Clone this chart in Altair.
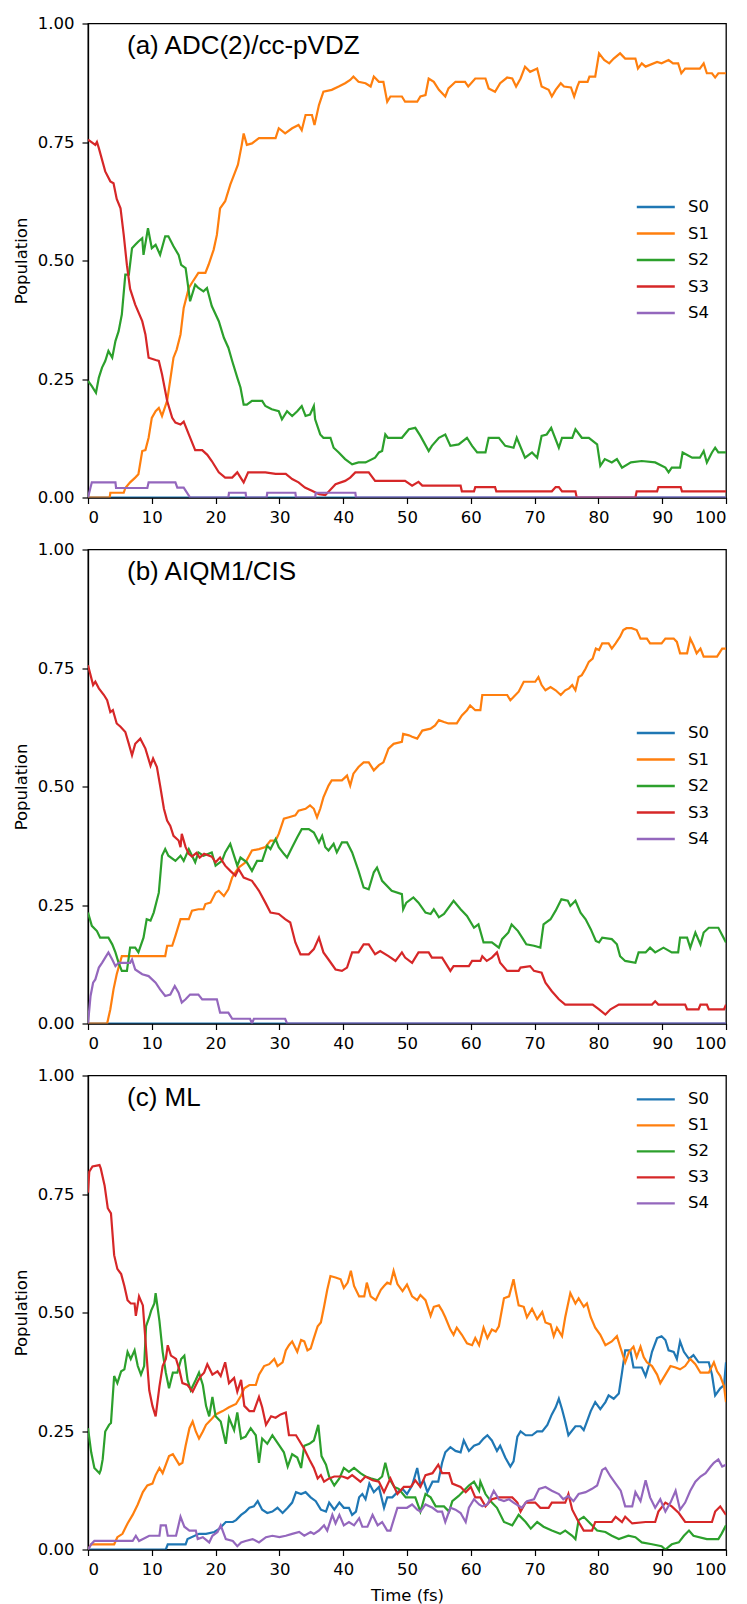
import altair as alt
import pandas as pd

STATES = ["S0", "S1", "S2", "S3", "S4"]
COLORS = ["#1f77b4", "#ff7f0e", "#2ca02c", "#d62728", "#9467bd"]
X_TICKS = [0, 10, 20, 30, 40, 50, 60, 70, 80, 90, 100]
Y_TICKS = [0, 0.25, 0.5, 0.75, 1.0]
PANEL_LABELS = ["(a) ADC(2)/cc-pVDZ", "(b) AIQM1/CIS", "(c) ML"]

# ---------------- panel (a) ADC(2)/cc-pVDZ ----------------
A_S0 = [(0, 0), (100, 0)]
A_S1 = [(0,0),(3.4,0),(3.5,0.01),(5.6,0.01),(5.85,0.02),(6.6,0.032),(7.4,0.042),(7.9,0.049),(8.5,0.098),(9,0.10),(9.5,0.126),(10,0.168),(10.6,0.182),(11.1,0.189),(11.6,0.172),(12.4,0.204),(12.9,0.249),(13.4,0.295),(13.9,0.312),(14.5,0.344),(15,0.40),(15.8,0.442),(16.3,0.453),(17.3,0.474),(18.4,0.474),(18.9,0.491),(19.7,0.523),(20.2,0.554),(20.7,0.61),(21.5,0.625),(22.3,0.66),(23.1,0.688),(23.5,0.702),(24.1,0.744),(24.4,0.768),(24.9,0.744),(25.7,0.747),(26.8,0.758),(29.4,0.758),(29.9,0.779),(30.9,0.768),(32,0.779),(33,0.786),(33.5,0.775),(34.1,0.807),(35.1,0.807),(35.5,0.786),(36.2,0.828),(36.9,0.856),(38.2,0.86),(39.3,0.867),(40.3,0.874),(41.1,0.881),(41.6,0.888),(42.4,0.877),(43.5,0.874),(44.3,0.867),(44.8,0.888),(45.6,0.877),(46.3,0.877),(46.9,0.835),(47.4,0.846),(49.2,0.846),(49.7,0.835),(51.6,0.835),(52.1,0.846),(52.9,0.849),(53.4,0.884),(54.2,0.877),(55,0.86),(56,0.846),(56.5,0.863),(57.6,0.877),(59.1,0.877),(59.6,0.867),(60.7,0.884),(62.3,0.884),(62.8,0.863),(63.8,0.856),(64.6,0.874),(65.7,0.886),(66.5,0.884),(67.1,0.867),(67.8,0.884),(68.5,0.909),(69.3,0.898),(70.4,0.905),(71.1,0.867),(72.2,0.86),(72.7,0.846),(73.3,0.86),(74.1,0.874),(74.6,0.867),(75.7,0.865),(76.2,0.846),(76.7,0.867),(77,0.877),(78.3,0.877),(78.6,0.888),(79.5,0.888),(80.1,0.937),(80.9,0.923),(81.7,0.916),(82.4,0.926),(83.4,0.937),(84.2,0.926),(85.8,0.926),(86.2,0.905),(86.8,0.916),(87.4,0.909),(89.2,0.919),(89.9,0.916),(91,0.923),(91.7,0.916),(92.5,0.916),(93,0.895),(93.6,0.905),(95.9,0.905),(96.5,0.916),(97,0.895),(97.8,0.895),(98.3,0.886),(98.8,0.895),(100,0.895)]
A_S2 = [(0,0.246),(0.6,0.235),(1.25,0.221),(1.7,0.253),(2.2,0.274),(2.7,0.288),(3.2,0.309),(3.8,0.295),(4.3,0.33),(4.8,0.351),(5.3,0.386),(5.85,0.47),(6.4,0.47),(6.9,0.526),(7.4,0.533),(7.9,0.54),(8.5,0.547),(8.7,0.512),(9.4,0.568),(10,0.526),(10.6,0.533),(11.3,0.512),(12.1,0.551),(12.6,0.551),(13.4,0.53),(14.2,0.512),(14.6,0.491),(15.3,0.484),(15.8,0.435),(16,0.414),(16.8,0.449),(17.3,0.442),(18.1,0.435),(18.65,0.442),(19.4,0.404),(20.5,0.372),(21.3,0.337),(22,0.316),(22.6,0.288),(23.4,0.253),(23.9,0.232),(24.4,0.196),(24.9,0.196),(25.7,0.204),(27.3,0.204),(27.8,0.193),(28.8,0.186),(29.9,0.182),(30.4,0.165),(31.2,0.182),(32,0.172),(32.8,0.182),(33.5,0.193),(34.1,0.172),(34.8,0.175),(35.4,0.193),(35.6,0.165),(36.4,0.133),(36.9,0.126),(38,0.126),(38.5,0.105),(39.3,0.095),(40.3,0.081),(41.4,0.07),(42.4,0.074),(43.5,0.074),(45,0.084),(45.6,0.095),(46.1,0.098),(46.6,0.133),(47,0.126),(49.2,0.126),(50.3,0.144),(51.3,0.147),(52.1,0.13),(53.4,0.098),(53.9,0.109),(55,0.126),(56,0.133),(56.8,0.109),(58.1,0.112),(59.4,0.126),(60.2,0.109),(61,0.095),(62.3,0.095),(62.8,0.126),(64.4,0.126),(65.4,0.109),(66.7,0.105),(67.2,0.126),(68.5,0.084),(69.6,0.095),(70.4,0.084),(71.1,0.13),(71.9,0.133),(72.6,0.147),(73.8,0.105),(74.3,0.126),(75.9,0.126),(76.4,0.144),(77.4,0.126),(78.5,0.126),(79.8,0.112),(80.3,0.067),(81,0.081),(82.1,0.074),(82.9,0.081),(83.7,0.063),(85.1,0.074),(86.8,0.077),(88.9,0.074),(90.5,0.063),(91,0.053),(91.5,0.063),(92.8,0.063),(93.2,0.095),(94.7,0.084),(95.9,0.084),(96.5,0.098),(97,0.074),(97.8,0.095),(98.3,0.105),(98.8,0.095),(100,0.095)]
A_S3 = [(0,0.755),(1.15,0.744),(1.4,0.75),(1.7,0.737),(2.7,0.688),(3.5,0.667),(4,0.663),(4.5,0.63),(5.1,0.61),(5.6,0.554),(6.1,0.49),(6.6,0.44),(7.4,0.407),(8.5,0.372),(9,0.344),(9.5,0.295),(10.6,0.29),(11.1,0.288),(11.6,0.26),(12.4,0.204),(13.2,0.168),(13.7,0.158),(14.5,0.154),(15,0.16),(15.8,0.133),(16.8,0.10),(17.9,0.10),(18.7,0.09),(19.4,0.077),(20.5,0.053),(21.5,0.042),(22.6,0.042),(23.4,0.053),(24.4,0.032),(25.1,0.053),(27.8,0.053),(29.4,0.05),(31,0.05),(32,0.039),(33,0.032),(34,0.021),(35.1,0.014),(36.2,0.007),(37.2,0.005),(38.8,0.028),(40.3,0.035),(41.1,0.042),(41.9,0.053),(44,0.053),(45,0.035),(49.7,0.035),(50.8,0.025),(51.8,0.033),(52.4,0.025),(58.4,0.025),(58.6,0.013),(60.5,0.013),(60.7,0.022),(63.8,0.022),(64,0.013),(72.7,0.013),(73.3,0.022),(73.8,0.022),(74.3,0.013),(76.4,0.013),(76.6,0),(85.8,0),(86,0.013),(89.2,0.013),(89.4,0.022),(92.9,0.022),(93.1,0.013),(100,0.013)]
A_S4 = [(0,0),(0.6,0.032),(4.3,0.032),(4.4,0.02),(9.3,0.02),(9.5,0.032),(13.7,0.032),(14,0.021),(15,0.021),(16,0),(22,0),(22.1,0.01),(24.7,0.01),(24.8,0),(28,0),(28.1,0.01),(32.5,0.01),(32.6,0),(35.6,0),(35.7,0.01),(41.9,0.01),(42,0),(100,0)]

# ---------------- panel (b) AIQM1/CIS ----------------
B_S0 = [(0, 0), (100, 0)]
B_S1 = [(0,0),(3,0),(3.5,0.03),(4,0.072),(4.5,0.104),(5.3,0.142),(12.1,0.142),(12.4,0.164),(13.2,0.164),(13.7,0.185),(14.5,0.22),(15.8,0.22),(16.3,0.238),(17.3,0.241),(18.1,0.241),(18.4,0.252),(19.2,0.255),(20,0.276),(20.5,0.28),(21.3,0.269),(22,0.283),(22.6,0.308),(23.1,0.319),(23.6,0.329),(24.7,0.34),(25.7,0.365),(26.8,0.368),(27.8,0.372),(28.6,0.386),(29.4,0.386),(29.9,0.40),(30.7,0.432),(31.5,0.435),(32.5,0.439),(33,0.449),(34.1,0.453),(34.8,0.46),(35.4,0.453),(35.9,0.435),(36.4,0.453),(36.9,0.477),(37.7,0.502),(38.2,0.513),(39.8,0.513),(40.6,0.523),(41.1,0.502),(41.6,0.527),(42.4,0.541),(43.2,0.551),(44,0.551),(44.8,0.534),(45.6,0.545),(46.3,0.551),(47.1,0.58),(47.9,0.59),(49.2,0.594),(49.4,0.611),(50.3,0.608),(50.8,0.605),(51.6,0.601),(52.4,0.618),(53.7,0.622),(54.4,0.629),(55,0.64),(55.8,0.636),(56.5,0.633),(57.8,0.633),(58.6,0.65),(59.4,0.661),(59.9,0.671),(60.7,0.661),(61.5,0.661),(61.8,0.693),(65.7,0.693),(66.2,0.682),(66.7,0.689),(67.5,0.70),(68.3,0.721),(70.1,0.721),(70.6,0.731),(71.1,0.714),(71.7,0.703),(72.5,0.71),(73.3,0.703),(74.1,0.693),(74.8,0.703),(75.4,0.707),(75.9,0.714),(76.4,0.703),(76.9,0.731),(77.4,0.735),(78,0.749),(78.5,0.763),(79.1,0.77),(79.6,0.791),(80.1,0.788),(80.6,0.802),(81.6,0.802),(82.1,0.791),(82.7,0.802),(83.4,0.816),(83.9,0.83),(84.4,0.834),(85.2,0.834),(86,0.83),(86.6,0.812),(87.6,0.812),(88.1,0.802),(89.9,0.802),(90.5,0.812),(91.8,0.812),(92.3,0.805),(92.8,0.781),(93.9,0.781),(94.4,0.812),(94.9,0.798),(95.4,0.781),(96,0.791),(96.5,0.774),(98.6,0.774),(99.4,0.791),(100,0.791)]
B_S2 = [(0,0.234),(0.6,0.206),(1.4,0.195),(1.9,0.181),(3.2,0.181),(3.8,0.167),(4.3,0.15),(4.8,0.128),(5.3,0.111),(6.1,0.111),(6.6,0.16),(7.4,0.16),(7.9,0.15),(8.7,0.181),(9.2,0.22),(9.8,0.217),(10.3,0.234),(11.1,0.276),(11.6,0.354),(12.1,0.368),(12.6,0.354),(13.7,0.343),(14.5,0.354),(15,0.343),(15.8,0.368),(16.8,0.34),(17.3,0.361),(18.1,0.354),(19.4,0.361),(20,0.333),(21,0.343),(21.5,0.361),(22.3,0.379),(22.8,0.358),(23.4,0.333),(23.9,0.35),(24.9,0.34),(25.7,0.322),(26.5,0.343),(27.3,0.343),(28.1,0.375),(28.6,0.368),(29.4,0.389),(29.9,0.372),(30.7,0.358),(31.2,0.35),(32,0.372),(32.8,0.393),(33.5,0.41),(34.6,0.41),(35.4,0.403),(36.2,0.382),(36.7,0.396),(37.2,0.372),(37.7,0.365),(38.5,0.379),(39,0.361),(39.8,0.382),(40.6,0.382),(41.4,0.361),(42.4,0.322),(43.2,0.287),(44,0.283),(44.8,0.319),(45.3,0.329),(46.1,0.301),(47.6,0.28),(49.2,0.273),(49.4,0.241),(49.9,0.255),(51,0.266),(51.8,0.255),(52.9,0.234),(53.7,0.231),(54.2,0.241),(55,0.224),(55.8,0.231),(57.3,0.259),(58.4,0.241),(59.4,0.227),(60.5,0.202),(61.2,0.209),(62,0.171),(63.3,0.171),(64.4,0.16),(64.9,0.178),(65.9,0.192),(66.4,0.209),(67.4,0.195),(68.2,0.178),(68.7,0.167),(69.9,0.164),(70.9,0.16),(71.4,0.209),(72.5,0.22),(73.3,0.238),(74.2,0.262),(75.2,0.259),(75.6,0.248),(76.4,0.259),(77.2,0.234),(78,0.22),(78.8,0.199),(79.6,0.174),(80.1,0.171),(80.6,0.181),(82.1,0.178),(82.9,0.167),(83.4,0.142),(84.2,0.132),(85.8,0.128),(86.3,0.15),(87.4,0.15),(88.1,0.16),(88.9,0.15),(90.2,0.16),(91.5,0.15),(92.5,0.15),(92.8,0.181),(93.9,0.181),(94.4,0.16),(95.2,0.192),(96,0.167),(96.5,0.192),(97.3,0.202),(98.8,0.202),(100,0.171)]
B_S3 = [(0,0.756),(0.4,0.735),(0.8,0.714),(1.15,0.721),(1.7,0.707),(2.5,0.693),(3,0.682),(3.5,0.657),(3.9,0.661),(4.5,0.633),(5.1,0.626),(5.85,0.615),(6.4,0.59),(6.9,0.566),(7.4,0.59),(8.2,0.601),(9,0.58),(9.8,0.544),(10.2,0.559),(10.8,0.541),(11.3,0.502),(11.9,0.453),(12.4,0.428),(12.9,0.417),(13.4,0.396),(14.2,0.386),(14.5,0.372),(14.7,0.40),(15.3,0.372),(15.8,0.358),(16.3,0.352),(17,0.36),(17.5,0.35),(18.2,0.358),(19.4,0.352),(20,0.34),(20.7,0.35),(21.5,0.333),(22.3,0.322),(23.1,0.312),(23.6,0.326),(24.4,0.308),(25.7,0.301),(26.8,0.28),(27.8,0.255),(28.6,0.234),(29.9,0.231),(30.9,0.22),(31.7,0.213),(32.5,0.171),(33.3,0.146),(34.6,0.146),(35.4,0.157),(36.2,0.181),(36.9,0.15),(37.7,0.135),(38.8,0.114),(39.8,0.111),(40.6,0.118),(41.4,0.15),(42.4,0.15),(43.2,0.167),(44,0.167),(45,0.146),(45.8,0.153),(47.1,0.142),(48.2,0.132),(49.2,0.15),(49.7,0.139),(50.8,0.128),(51.8,0.15),(53.4,0.15),(53.9,0.139),(55.5,0.139),(56.8,0.111),(57.3,0.121),(59.7,0.121),(60.2,0.132),(61.5,0.132),(61.8,0.142),(62.5,0.132),(63.3,0.139),(64.1,0.15),(64.6,0.128),(65.7,0.111),(67.5,0.111),(67.8,0.118),(69.3,0.121),(69.9,0.111),(71.1,0.107),(71.7,0.086),(72.7,0.068),(73.8,0.051),(74.8,0.04),(79.1,0.04),(80.1,0.03),(81.1,0.019),(81.9,0.03),(83.2,0.04),(88.4,0.04),(88.9,0.047),(89.4,0.04),(93.6,0.04),(93.9,0.03),(95.7,0.03),(96,0.04),(97,0.04),(97.3,0.03),(99.7,0.03),(100,0.04)]
B_S4 = [(0,0),(0.4,0.058),(0.8,0.086),(1.15,0.093),(1.7,0.118),(2.2,0.128),(2.7,0.139),(3.2,0.15),(3.8,0.135),(4.3,0.121),(4.8,0.128),(6.6,0.128),(6.9,0.135),(7.4,0.114),(8.5,0.104),(9.5,0.10),(10.6,0.086),(11.3,0.072),(12.1,0.058),(12.9,0.061),(13.6,0.079),(14.2,0.065),(14.7,0.044),(15.3,0.051),(16,0.061),(17.3,0.061),(17.9,0.051),(20.2,0.051),(20.7,0.023),(22,0.023),(22.6,0.01),(25.4,0.01),(25.7,0),(26,0.01),(30.9,0.01),(31.2,0),(100,0)]

# ---------------- panel (c) ML ----------------
C_S0 = [(0,0),(12.2,0),(12.5,0.011),(15.3,0.011),(15.6,0.022),(17.4,0.033),(18.5,0.033),(19.8,0.037),(20.6,0.044),(21.6,0.058),(22.7,0.058),(23.2,0.062),(24,0.073),(24.7,0.08),(25.3,0.088),(26,0.091),(26.6,0.102),(27.3,0.084),(28.1,0.077),(28.9,0.08),(29.7,0.088),(30.5,0.077),(31.3,0.088),(32,0.099),(32.6,0.121),(33.4,0.117),(34.1,0.121),(34.9,0.11),(35.7,0.102),(36.5,0.084),(37.3,0.08),(37.8,0.099),(38.6,0.084),(39.4,0.099),(40.1,0.088),(40.9,0.088),(41.4,0.073),(42,0.08),(42.5,0.11),(43,0.117),(43.5,0.106),(44.1,0.139),(44.8,0.121),(45.6,0.132),(46.4,0.088),(46.9,0.11),(47.7,0.11),(48.5,0.121),(49.3,0.128),(50,0.117),(50.8,0.135),(51.6,0.172),(52.1,0.135),(52.6,0.146),(53.2,0.121),(54,0.143),(54.9,0.143),(55.5,0.183),(56,0.205),(56.8,0.216),(57.6,0.208),(58.4,0.205),(58.9,0.23),(59.7,0.208),(60.5,0.219),(61.3,0.223),(62,0.234),(62.6,0.241),(63.3,0.23),(64.1,0.208),(64.6,0.219),(65.4,0.194),(66.2,0.175),(66.7,0.186),(67.3,0.238),(67.8,0.249),(68.6,0.241),(69.6,0.241),(70.4,0.249),(71.2,0.249),(72,0.263),(72.7,0.285),(73.3,0.30),(73.8,0.318),(74.3,0.296),(74.8,0.27),(75.3,0.241),(76.4,0.26),(77.2,0.26),(77.7,0.252),(78.2,0.27),(78.8,0.292),(79.5,0.311),(80.3,0.296),(81.1,0.311),(81.6,0.325),(82.4,0.318),(83.2,0.329),(83.7,0.373),(84.2,0.42),(85,0.42),(85.5,0.384),(86.8,0.384),(87.4,0.366),(87.9,0.388),(88.4,0.417),(89.2,0.446),(89.9,0.45),(90.5,0.442),(91,0.42),(91.8,0.417),(92.3,0.402),(92.8,0.439),(93.4,0.417),(94.2,0.402),(94.9,0.41),(95.7,0.395),(97.3,0.395),(97.8,0.369),(98.3,0.325),(99.1,0.34),(99.7,0.347),(100,0.395)]
C_S1 = [(0,0),(0.5,0.011),(4.1,0.011),(4.6,0.026),(5.4,0.033),(6.2,0.055),(7,0.073),(7.8,0.095),(8.6,0.121),(9.3,0.135),(10.1,0.139),(10.6,0.157),(11.2,0.172),(11.7,0.161),(12.2,0.179),(12.7,0.197),(13.3,0.201),(13.8,0.19),(14.3,0.179),(14.8,0.183),(15.3,0.219),(15.9,0.256),(16.4,0.27),(16.9,0.249),(17.4,0.234),(18,0.249),(18.5,0.263),(19.3,0.274),(20,0.285),(21.1,0.292),(22.1,0.30),(23.2,0.307),(24,0.325),(24.5,0.34),(25.3,0.347),(26.3,0.347),(26.8,0.369),(27.6,0.387),(28.4,0.391),(29.2,0.402),(29.7,0.387),(30.5,0.395),(31,0.42),(31.5,0.431),(32,0.439),(32.8,0.417),(33.4,0.442),(33.9,0.439),(34.4,0.42),(34.9,0.424),(35.4,0.446),(36,0.471),(36.5,0.479),(37,0.512),(37.5,0.548),(38,0.577),(38.8,0.574),(39.6,0.570),(40.1,0.552),(40.7,0.563),(41.2,0.588),(41.7,0.556),(42.5,0.534),(43.3,0.534),(43.7,0.563),(44.3,0.534),(45.1,0.526),(45.9,0.548),(46.4,0.556),(46.9,0.563),(47.4,0.56),(47.9,0.588),(48.5,0.56),(49.3,0.545),(50,0.559),(50.8,0.534),(51.6,0.526),(52.1,0.537),(52.9,0.526),(53.7,0.493),(54.2,0.512),(55,0.515),(55.5,0.504),(56,0.49),(56.8,0.464),(57.3,0.453),(57.8,0.468),(58.6,0.453),(59.4,0.435),(60.2,0.431),(60.7,0.446),(61.3,0.431),(62,0.468),(62.6,0.446),(63.3,0.464),(63.9,0.46),(64.4,0.471),(65.2,0.53),(66,0.534),(66.7,0.57),(67,0.548),(67.5,0.515),(68.3,0.512),(68.8,0.49),(69.6,0.508),(70.4,0.486),(71.2,0.501),(71.7,0.479),(72.5,0.475),(73,0.45),(73.5,0.468),(74.3,0.45),(74.8,0.49),(75.6,0.541),(76.4,0.519),(76.9,0.53),(77.7,0.512),(78.2,0.519),(78.8,0.49),(79.5,0.468),(80.3,0.453),(81.1,0.431),(82.1,0.439),(82.9,0.45),(83.5,0.424),(84.2,0.395),(84.8,0.417),(85.5,0.428),(86,0.406),(86.6,0.428),(87.1,0.406),(87.6,0.395),(88.4,0.387),(89.2,0.369),(89.7,0.351),(90.5,0.369),(91.3,0.387),(92.1,0.384),(92.8,0.38),(93.6,0.387),(94.4,0.402),(95.2,0.391),(96,0.373),(97.3,0.373),(98.1,0.395),(98.6,0.376),(99.1,0.366),(99.7,0.344),(100,0.311)]
C_S2 = [(0,0.256),(0.5,0.205),(1,0.172),(1.8,0.161),(2,0.168),(2.3,0.19),(2.7,0.249),(3.3,0.263),(3.6,0.267),(4.1,0.366),(4.6,0.351),(5.2,0.376),(5.7,0.38),(6.2,0.417),(6.7,0.402),(7.3,0.42),(7.8,0.387),(8.3,0.369),(8.8,0.387),(9.1,0.471),(9.6,0.49),(9.9,0.504),(10.4,0.519),(10.6,0.541),(11.2,0.482),(11.7,0.417),(12.2,0.373),(12.7,0.34),(13.3,0.373),(14,0.373),(14.6,0.402),(15.1,0.409),(15.6,0.358),(16.1,0.336),(16.9,0.358),(17.4,0.373),(18,0.347),(18.5,0.303),(19,0.281),(19.5,0.322),(20,0.281),(20.8,0.27),(21.6,0.223),(22.1,0.278),(22.9,0.252),(23.4,0.289),(24,0.234),(24.7,0.238),(25.5,0.256),(26.3,0.241),(26.8,0.183),(27.3,0.234),(28.1,0.223),(28.9,0.241),(30,0.219),(30.7,0.205),(31.3,0.175),(32,0.201),(32.8,0.194),(33.4,0.172),(33.9,0.219),(34.7,0.223),(35.4,0.23),(36.1,0.263),(36.6,0.197),(37.3,0.179),(37.8,0.154),(38.6,0.135),(39.4,0.15),(40.1,0.172),(40.9,0.164),(41.7,0.172),(42.7,0.161),(43.5,0.154),(44.3,0.15),(45.4,0.146),(46.1,0.154),(46.6,0.183),(47.2,0.15),(48,0.132),(48.7,0.128),(49.8,0.11),(51.3,0.11),(52.1,0.08),(52.9,0.117),(53.7,0.11),(54.5,0.091),(55.8,0.091),(56.6,0.08),(57.1,0.102),(58.1,0.113),(58.9,0.124),(59.7,0.135),(60.5,0.143),(61.3,0.124),(61.5,0.143),(62.3,0.117),(63.3,0.099),(64.1,0.088),(65.2,0.058),(66.5,0.051),(67.5,0.073),(68.6,0.058),(69.4,0.044),(70.4,0.058),(71.4,0.048),(72.7,0.04),(74,0.033),(74.8,0.04),(75.9,0.029),(76.4,0.022),(76.9,0.062),(77.7,0.069),(78.5,0.058),(79.8,0.04),(81.1,0.037),(82.1,0.029),(83.2,0.022),(84.7,0.029),(85.8,0.026),(86.8,0.015),(88.4,0.011),(89.9,0.007),(90.5,0),(91.5,0.011),(92.6,0.015),(93.4,0.029),(94.2,0.04),(94.9,0.029),(97,0.022),(98.8,0.022),(99.3,0.033),(100,0.051)]
C_S3 = [(0,0.753),(0.2,0.797),(0.7,0.808),(1.8,0.811),(2,0.804),(2.6,0.768),(3.1,0.72),(3.6,0.709),(4.1,0.621),(4.6,0.592),(5.2,0.581),(5.7,0.556),(6.2,0.526),(6.7,0.519),(7.3,0.519),(7.5,0.493),(8,0.534),(8.6,0.515),(9.1,0.424),(9.6,0.336),(10.1,0.303),(10.6,0.281),(11.2,0.344),(11.7,0.387),(12.2,0.402),(12.5,0.431),(13,0.409),(13.8,0.402),(14.3,0.38),(14.8,0.351),(15.6,0.347),(16.4,0.333),(17.2,0.355),(17.7,0.366),(18.2,0.373),(18.7,0.391),(19.5,0.369),(20.3,0.376),(20.8,0.366),(21.5,0.395),(22.1,0.351),(22.9,0.362),(23.4,0.333),(24,0.358),(24.5,0.303),(25.3,0.292),(26,0.292),(26.8,0.322),(27.3,0.30),(27.9,0.263),(28.7,0.281),(29.4,0.278),(30.2,0.285),(31,0.289),(31.5,0.241),(32.6,0.241),(33.1,0.23),(33.9,0.212),(34.7,0.19),(35.4,0.172),(36,0.15),(36.5,0.157),(37,0.143),(37.8,0.15),(38.6,0.154),(39.9,0.154),(40.7,0.15),(41.4,0.157),(42.7,0.143),(43.5,0.154),(44.6,0.146),(45.6,0.143),(46.4,0.121),(47.4,0.15),(48.5,0.117),(49.5,0.132),(50.6,0.132),(51.3,0.146),(52.1,0.132),(52.9,0.157),(54,0.161),(54.9,0.179),(55.5,0.161),(56.6,0.161),(57.1,0.139),(58.4,0.132),(59.2,0.121),(60,0.132),(60.7,0.11),(61.5,0.11),(62.3,0.091),(63.3,0.106),(64.4,0.11),(66.5,0.11),(67.3,0.099),(67.8,0.08),(68.6,0.099),(70.1,0.099),(70.9,0.088),(72.2,0.088),(72.7,0.099),(74.8,0.099),(75.3,0.117),(75.9,0.084),(76.9,0.058),(77.7,0.04),(79,0.04),(79.5,0.058),(82.1,0.058),(82.7,0.069),(83.7,0.058),(84.2,0.069),(85.3,0.055),(87.4,0.058),(88.9,0.058),(89.4,0.08),(90.5,0.099),(91.5,0.091),(92.6,0.077),(93.6,0.058),(97.8,0.058),(98.3,0.08),(99.1,0.091),(100,0.073)]
C_S4 = [(0,0),(0.5,0.011),(1,0.018),(7,0.018),(7.5,0.029),(8,0.018),(9.6,0.029),(11.2,0.029),(11.4,0.051),(12.2,0.051),(12.5,0.029),(13.8,0.029),(14.5,0.069),(15.1,0.048),(15.9,0.04),(16.9,0.04),(17.2,0.022),(18,0.026),(19,0.015),(19.5,0.029),(20.3,0.037),(20.8,0.051),(21.6,0.022),(22.7,0.018),(23.4,0.007),(24,0.015),(24.7,0.018),(25.8,0.022),(26.8,0.015),(27.9,0.026),(28.9,0.029),(30,0.026),(31,0.029),(32,0.033),(33.1,0.037),(33.9,0.029),(34.9,0.037),(35.4,0.033),(36.2,0.04),(37,0.051),(37.5,0.04),(38.3,0.073),(38.8,0.055),(39.4,0.073),(40.1,0.051),(40.9,0.058),(41.7,0.051),(42.5,0.066),(43,0.048),(43.8,0.048),(44.6,0.073),(45.4,0.051),(46.1,0.058),(46.9,0.04),(47.4,0.04),(47.9,0.062),(48.5,0.088),(50,0.088),(50.8,0.095),(51.6,0.084),(52.1,0.08),(52.9,0.095),(54,0.088),(54.8,0.08),(55.5,0.08),(56,0.058),(56.8,0.088),(57.6,0.084),(58.4,0.077),(59.2,0.058),(59.7,0.088),(60.5,0.106),(61.3,0.095),(61.8,0.091),(62.6,0.095),(63.6,0.124),(64.4,0.106),(65.2,0.102),(66,0.106),(66.7,0.099),(68,0.088),(68.8,0.102),(69.9,0.106),(70.7,0.128),(71.7,0.132),(72.7,0.124),(73.8,0.117),(74.5,0.106),(75.3,0.113),(76.1,0.102),(76.9,0.117),(78,0.121),(79,0.128),(79.8,0.135),(80.6,0.168),(81.1,0.172),(81.9,0.154),(82.7,0.139),(83.5,0.124),(84.2,0.091),(85.3,0.091),(85.8,0.121),(86.6,0.102),(87.4,0.146),(88.1,0.11),(88.9,0.088),(89.7,0.106),(90.5,0.08),(91.3,0.099),(92.1,0.124),(92.8,0.084),(93.6,0.099),(94.4,0.124),(95.2,0.143),(96,0.154),(96.8,0.161),(97.6,0.175),(98.1,0.183),(98.8,0.19),(99.4,0.175),(100,0.179)]

FONT = "DejaVu Sans"
FS = 16.5


def frame(series):
    rows = []
    for state, pts in zip(STATES, series):
        for t, v in pts:
            rows.append({"t": t, "v": v, "state": state})
    return pd.DataFrame(rows)


def panel(series, label, height, legend_y, row_pad, show_xtitle):
    df = frame(series)
    x_scale = alt.Scale(domain=[0, 100], nice=False, zero=False)
    x_axis = alt.Axis(values=X_TICKS, format="d")
    if show_xtitle:
        x_enc = alt.X("t:Q", title="Time (fs)", scale=x_scale, axis=x_axis)
    else:
        x_enc = alt.X("t:Q", title=None, scale=x_scale, axis=x_axis)
    lines = alt.Chart(df).mark_line(strokeWidth=2.2, clip=True).encode(
        x=x_enc,
        y=alt.Y("v:Q", title="Population",
                scale=alt.Scale(domain=[0, 1], nice=False),
                axis=alt.Axis(values=Y_TICKS, format=".2f", labelPadding=8)),
        color=alt.Color(
            "state:N",
            scale=alt.Scale(domain=STATES, range=COLORS),
            legend=alt.Legend(
                title=None, orient="none", legendX=558.8, legendY=legend_y,
                symbolType="M-2.5,0H2.5", symbolSize=231, symbolStrokeWidth=2.3,
                labelFont=FONT, labelFontSize=FS, labelColor="black",
                labelOffset=23.2, rowPadding=row_pad, padding=0,
            ),
        ),
    )
    text = alt.Chart(pd.DataFrame({"label": [label]})).mark_text(
        align="left", baseline="alphabetic", font="Liberation Sans",
        fontSize=26, color="black",
    ).encode(text="label:N", x=alt.value(39), y=alt.value(30))
    return alt.layer(lines, text).properties(width=638, height=height)


pa = panel([A_S0, A_S1, A_S2, A_S3, A_S4], PANEL_LABELS[0], 474, 174.5, 8.5, False)
pb = panel([B_S0, B_S1, B_S2, B_S3, B_S4], PANEL_LABELS[1], 474, 174.5, 8.5, False)
pc = panel([C_S0, C_S1, C_S2, C_S3, C_S4], PANEL_LABELS[2], 474, 14.8, 8.0, True)

chart = alt.vconcat(pa, pb, pc, spacing=52, bounds="flush").resolve_scale(
    color="independent"
).properties(
    padding={"left": 4, "top": 6.5, "right": 5, "bottom": 0}
).configure_view(
    stroke="black", strokeWidth=1.3
).configure_axis(
    labelFont=FONT, labelFontSize=FS, labelColor="black",
    titleFont=FONT, titleFontSize=FS, titleFontWeight="normal", titleColor="black",
    tickColor="black", tickSize=6, tickWidth=1.2,
    domainColor="black", domainWidth=1.3, grid=False, labelPadding=6,
).configure_axisY(titlePadding=8).configure_axisX(titlePadding=9)

chart.save("out.html", embed_options={"renderer": "svg", "actions": False})
